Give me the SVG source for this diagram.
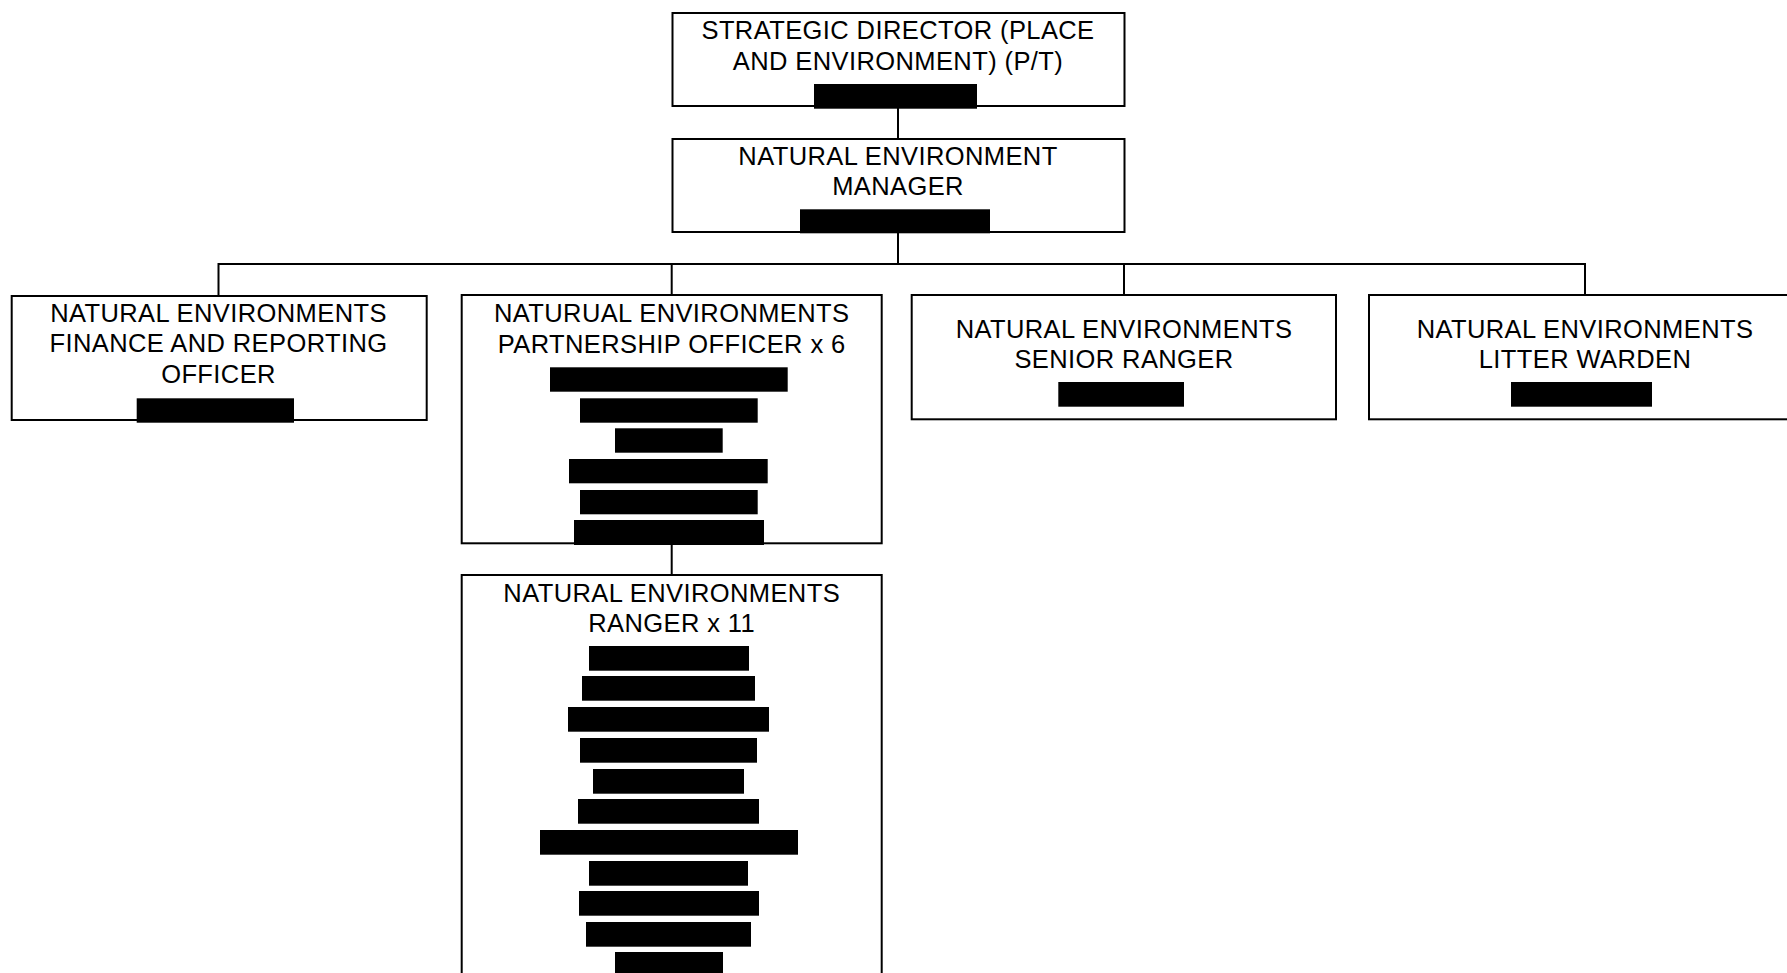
<svg xmlns="http://www.w3.org/2000/svg" width="1787" height="973" viewBox="0 0 1787 973">
  <style>
    .box { fill: #ffffff; stroke: #000000; stroke-width: 2; }
    .bar { fill: #000000; }
    .lbl { font-family: "Liberation Sans", Arial, sans-serif; font-size: 25.5px; letter-spacing: 0.4px; fill: #000000; text-anchor: middle; }
    .wire { fill: none; stroke: #000000; stroke-width: 2; }
  </style>
  <rect width="1787" height="973" fill="#ffffff"/>

  <g id="connectors">
    <path class="wire" d="M898 106 V139"/>
    <path class="wire" d="M898 232 V264"/>
    <path class="wire" d="M218.5 264 H1585"/>
    <path class="wire" d="M218.5 263 V296"/>
    <path class="wire" d="M671.7 263 V295"/>
    <path class="wire" d="M1124 263 V295"/>
    <path class="wire" d="M1585 263 V295"/>
    <path class="wire" d="M671.7 543 V575"/>
  </g>

  <g id="strategic-director">
    <rect class="box" x="672.5" y="13" width="452" height="93"/>
    <text class="lbl" x="898" y="38.8">STRATEGIC DIRECTOR (PLACE</text>
    <text class="lbl" x="898" y="69.5">AND ENVIRONMENT) (P/T)</text>
    <rect class="bar" x="814" y="84" width="163" height="24.7"/>
  </g>

  <g id="natural-environment-manager">
    <rect class="box" x="672.5" y="139" width="452" height="93"/>
    <text class="lbl" x="898" y="164.8">NATURAL ENVIRONMENT</text>
    <text class="lbl" x="898" y="195.3">MANAGER</text>
    <rect class="bar" x="800" y="209.3" width="190" height="24"/>
  </g>

  <g id="finance-reporting-officer">
    <rect class="box" x="11.7" y="296" width="415" height="124"/>
    <text class="lbl" x="218.5" y="321.7">NATURAL ENVIRONMENTS</text>
    <text class="lbl" x="218.5" y="352">FINANCE AND REPORTING</text>
    <text class="lbl" x="218.5" y="382.5">OFFICER</text>
    <rect class="bar" x="136.7" y="398.3" width="157.3" height="24.4"/>
  </g>

  <g id="partnership-officer">
    <rect class="box" x="461.7" y="295" width="420" height="248.3"/>
    <text class="lbl" x="671.7" y="321.7">NATURUAL ENVIRONMENTS</text>
    <text class="lbl" x="671.7" y="352.5">PARTNERSHIP OFFICER x 6</text>
    <rect class="bar" x="550" y="367.3" width="237.7" height="24.4"/>
    <rect class="bar" x="580" y="398.3" width="177.7" height="24.4"/>
    <rect class="bar" x="615" y="428.3" width="107.7" height="24.4"/>
    <rect class="bar" x="569" y="459" width="198.7" height="24.3"/>
    <rect class="bar" x="580" y="490" width="177.7" height="24.3"/>
    <rect class="bar" x="574" y="520" width="190" height="25"/>
  </g>

  <g id="senior-ranger">
    <rect class="box" x="911.7" y="295" width="424.3" height="124.3"/>
    <text class="lbl" x="1124" y="337.7">NATURAL ENVIRONMENTS</text>
    <text class="lbl" x="1124" y="367.5">SENIOR RANGER</text>
    <rect class="bar" x="1058.3" y="382" width="125.7" height="24.7"/>
  </g>

  <g id="litter-warden">
    <rect class="box" x="1369" y="295" width="432" height="124.3"/>
    <text class="lbl" x="1585" y="337.7">NATURAL ENVIRONMENTS</text>
    <text class="lbl" x="1585" y="367.5">LITTER WARDEN</text>
    <rect class="bar" x="1511" y="382" width="141" height="24.7"/>
  </g>

  <g id="ranger">
    <rect class="box" x="461.7" y="575" width="420" height="440"/>
    <text class="lbl" x="671.7" y="601.5">NATURAL ENVIRONMENTS</text>
    <text class="lbl" x="671.7" y="631.7">RANGER x 11</text>
    <rect class="bar" x="589" y="646" width="160" height="24.7"/>
    <rect class="bar" x="582" y="676" width="173" height="24.7"/>
    <rect class="bar" x="568" y="707" width="201" height="24.7"/>
    <rect class="bar" x="580" y="738" width="177" height="24.7"/>
    <rect class="bar" x="593" y="769" width="151" height="24.7"/>
    <rect class="bar" x="578" y="799" width="181" height="24.7"/>
    <rect class="bar" x="540" y="830" width="258" height="24.7"/>
    <rect class="bar" x="589" y="861" width="159" height="24.7"/>
    <rect class="bar" x="579" y="891" width="180" height="24.7"/>
    <rect class="bar" x="586" y="922" width="165" height="24.7"/>
    <rect class="bar" x="615" y="952" width="108" height="30"/>
  </g>
</svg>
